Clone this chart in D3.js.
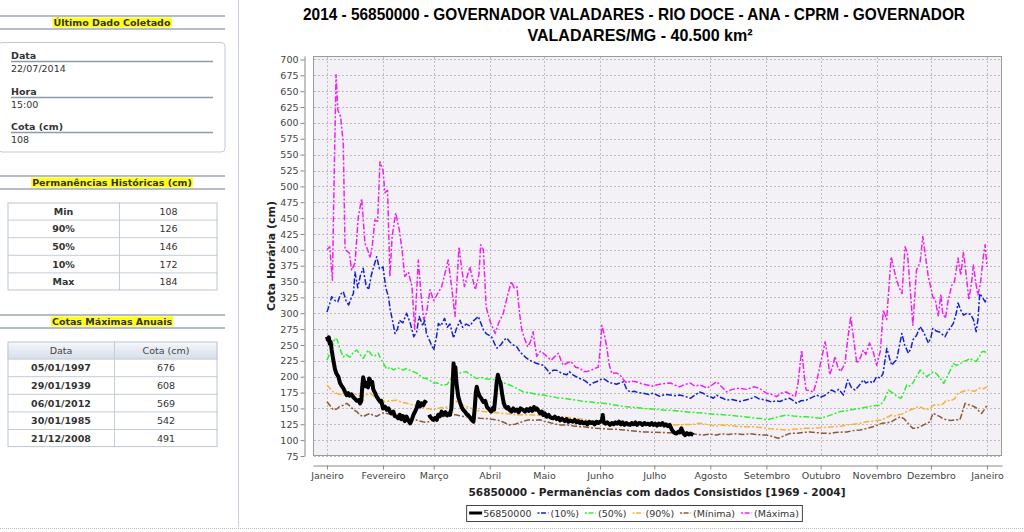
<!DOCTYPE html>
<html><head><meta charset="utf-8">
<script src="https://cdn.jsdelivr.net/npm/d3@7"></script>
<style>body{margin:0;background:#fff;}svg{display:block;}</style>
</head><body>
<svg id="c" width="1024" height="532"></svg>
<script>
// ---------------- DATA ----------------
const titleLines = ["2014 - 56850000 - GOVERNADOR VALADARES - RIO DOCE - ANA - CPRM - GOVERNADOR", "VALADARES/MG - 40.500 km²"];
const xTitle = "56850000 - Permanências com dados Consistidos [1969 - 2004]";
const yTitle = "Cota Horária (cm)";
const monthLabels = ["Janeiro","Fevereiro","Março","Abril","Maio","Junho","Julho","Agosto","Setembro","Outubro","Novembro","Dezembro","Janeiro"];
const yTickValues = [75,100,125,150,175,200,225,250,275,300,325,350,375,400,425,450,475,500,525,550,575,600,625,650,675,700];
const seriesNames = ["56850000","(10%)","(50%)","(90%)","(Mínima)","(Máxima)"];

const lastDataLabels = ["Data","Hora","Cota (cm)"];
const lastDataValues = ["22/07/2014","15:00","108"];
const permLabels = ["Min","90%","50%","10%","Max"];
const permValues = [108,126,146,172,184];
const annualHeader = ["Data","Cota (cm)"];
const annualDates = ["05/01/1997","29/01/1939","06/01/2012","30/01/1985","21/12/2008"];
const annualValues = [676,608,569,542,491];

// [day of year 2014, cota cm]
const maxima = [[0,400],[1.5,405],[3,352],[4,520],[5,676],[6,620],[7.5,610],[9,568],[10,400],[11,398],[12.4,395],[13.6,368],[15.5,379],[17.3,452],[19.2,481],[21,410],[22.5,400],[23.8,387],[25,405],[26.5,447],[28,445],[29.3,539],[31,525],[32,490],[33.5,494],[34.8,358],[36,420],[38,458],[40,431],[41.5,400],[43,358],[45,365],[47,342],[48.5,275],[50.5,384],[52,330],[53.5,290],[55,300],[57,337],[59,320],[61,330],[63.4,342],[65,360],[67,384],[69,340],[70.8,295],[73,405],[74.5,370],[76,342],[79,373],[82,337],[84,360],[85,408],[86.5,400],[88,310],[90.5,285],[93,268],[95,285],[97.5,300],[100,330],[102,350],[103.5,340],[105,342],[106.5,300],[107.7,274],[109,262],[111,247],[112.5,255],[114,271],[115,250],[116,232],[118,240],[119.6,237],[121.5,232],[124,226],[126,232],[128,237],[129.5,225],[130.7,218],[133,222],[135,224],[137.5,215],[140,213],[142,208],[143.6,208],[146,210],[148,213],[150,215],[151,240],[152,281],[153.5,265],[154.7,247],[156,220],[157.5,205],[160,206],[162,203],[164,195],[165.8,190],[168,193],[171,192],[174,189],[177,187],[180,185],[182,187],[186,189],[190,190],[193,186],[195,184],[198,188],[201,190],[203.5,185],[206,187],[208,185],[210,182],[213,187],[215.5,192],[218,185],[221,176],[224,180],[228,182],[232,180],[236,184],[239,182],[243,174],[246,172],[248.7,168.5],[251,174],[254,176],[256.5,172],[259,168.5],[260.5,190],[262.5,242],[264,200],[265,179],[267,178],[269,176],[270.5,190],[272,208],[274,235],[275.5,255],[277,230],[278,203],[279.5,215],[281,232],[282.5,215],[284,208],[286.5,221],[288,260],[289.7,295],[291,265],[293,221],[295,230],[296.6,242],[298,235],[300,253],[302,240],[304,218],[306,240],[307.7,305],[309.5,290],[312,389],[313.5,370],[315,352],[316.5,340],[318,331],[319.7,405],[321,395],[322.5,340],[324,281],[326,368],[328,380],[329.5,421],[331,390],[332.5,358],[334,340],[335,326],[336.5,320],[338,295],[339.5,330],[340.5,300],[342,292],[343.5,320],[345.5,344],[347,350],[349,387],[350.5,360],[352,397],[353.5,360],[355,321],[356.5,350],[357.5,376],[359,345],[360,329],[361.5,350],[363,390],[364,408],[365,373]];

const p10 = [[0,302],[1.5,315],[2.6,326],[4.5,320],[6,318],[7.5,330],[9,334],[10.5,320],[12,313],[13.5,325],[14.6,331],[15.5,365],[17,340],[18.5,360],[20,371],[21.5,345],[23,337],[24.5,360],[26,375],[27.5,389],[29,370],[31,373],[32.5,340],[34,326],[35,305],[36.5,285],[37.6,268],[39,275],[40,289],[42,285],[44,300],[46,285],[48,263],[49.5,270],[51,295],[53,280],[54,289],[55,268],[57,255],[59,242],[60.5,262],[61.6,284],[63,280],[65,292],[66.5,278],[68,283],[70,261],[71.5,275],[73.6,289],[75,278],[77,283],[79,280],[81,288],[83.7,295],[85,285],[86.5,274],[88,268],[91,263],[93,250],[94,245],[96,250],[98,258],[99.4,261],[101,255],[103,250],[105,247],[107,238],[108.6,234],[110,230],[112,226],[115,222],[117,220],[119.6,218],[122,210],[123,205],[125,210],[127,210],[130,205],[132.6,203],[134,208],[136,203],[139,198],[141.8,195],[143,193],[145.5,187],[147,190],[149,192],[151,195],[153,197],[155,193],[156.5,190],[158,190],[160,188],[162,190],[164,192],[165.8,180],[167.6,176],[170,177],[172,175],[175,174],[178,172],[180.5,174],[184,169],[187,172],[190,171],[193,170],[195,171],[198,169],[201,166],[203,170],[206,176],[208,174],[210,170],[212,168.5],[213.7,166],[215.5,171],[217,168],[219,166],[221,163],[224,164],[228.4,161],[231,163],[234,165],[236.7,168.5],[239,165],[243,163],[246,160],[248,162],[250.5,161],[253,164],[256,166],[258,162],[259.8,158],[262,162],[265,163],[268,167],[270.8,171],[273,168],[275,170],[277,174],[279,179],[281,176],[283,180],[285.6,171],[288,195],[290,183],[292,179],[294,185],[296.6,195],[298,190],[300,193],[302,190],[304,200],[306,198],[307.5,205],[309.6,245],[311,230],[312.3,218],[314,224],[315,226],[317.9,268],[319.5,250],[321.5,237],[323,245],[324,258],[326,265],[328,279],[330,270],[332.6,253],[334,262],[335,276],[337,272],[339,270],[341.8,263],[343,270],[345,278],[346.4,284],[348,300],[349,316],[350.5,305],[352,297],[354,300],[356,298],[357.5,290],[359,271],[360,290],[361,331],[362.5,325],[364,318],[365,324]];

const p50 = [[0,226],[2,240],[4.4,260.5],[5.7,258],[7,245],[9,231],[10.5,235],[12.7,231],[14.5,238],[16.4,242],[18,236],[20,229],[21.5,236],[22.8,242],[24.5,235],[26,232],[28.4,237],[29.5,229],[31,222],[33,212],[35,215],[36.7,210.5],[39,214],[42,210.5],[44,213],[46,210],[47.7,208],[50,205],[53,198],[55,197],[57,194],[58.8,190],[61,190],[63.4,187],[65,187],[66.5,188],[68,195],[70,200],[71.7,205],[74,206],[77,208],[79,204],[81,200],[82.8,197],[85,199],[87,197],[90,196],[94,195],[97,191],[101,187],[104,183],[108.6,176],[112,175],[116,172],[119.6,171],[123,169],[127,167],[130.7,166],[135,164],[138,163],[141.8,161],[146,160],[149,159],[152.8,158],[156,157],[160,155],[164,153],[168,152],[172,151],[175,150],[180,149],[186,147.5],[190,147],[194,146],[197,145],[201,144],[206,143],[210,142],[214,141],[219,140],[224,139],[230,137],[236,135],[240,134],[243,132],[246,134],[250,137],[254,139.6],[258,138],[262,137],[265,137],[268,136],[272.7,134.5],[276,137],[280,141],[283.7,145],[287,146],[290,148],[294.8,150],[298,152],[302,154],[305.9,155],[308,162],[310.5,179],[312,176],[314,172],[315.5,168],[317.5,166],[319,175],[320.6,187],[322,185],[324,190],[326,200],[328,210.5],[330,205],[331.7,200],[333.5,204],[335.4,208],[337,205],[339,198],[341,189.5],[343,200],[345,212],[346.4,221],[348,218],[350,220],[352,224],[354,226],[355.6,229],[357,226],[359,224],[360.5,230],[362,239],[363.5,240],[365,237]];

const p90 = [[0,187],[1.5,182],[3.5,176],[6,173],[9,171],[12.7,172],[14.6,174],[17,171],[19.2,168.5],[21,171],[23.8,174],[25.5,170],[27.5,166],[30,163],[32,160.6],[35,162],[38.5,163],[41,160],[44,158],[47,156],[49.6,155],[52,152],[55,150],[57,149],[58.8,147.5],[61,150],[63,151],[66,152],[68,153],[70,158],[71.7,161],[73.5,158],[75,155],[77,153],[80,150],[83,147],[86.5,145],[90,144],[94,143],[98,142],[101,141],[105,139.6],[110,140],[116,139.6],[121,138],[127,137],[132,136],[138,134.5],[143,132],[149,129],[154,128.5],[160,127.5],[166,127],[171,127],[176,126],[182,125.4],[187,124.5],[193,124],[198,124.5],[203,125],[206,126.5],[210,125],[215.5,122],[217,124],[222,123],[226,122],[230,121],[236,121],[240,120],[245,118],[250,117],[254,116],[258,117],[262,118],[265,118.6],[270,119],[275,120],[280,121],[284,122],[287.5,124],[291,125],[294,126],[298.5,129],[302,130],[306.8,132],[309,135],[312.3,139.6],[314,138],[316,140],[318,141],[320.6,145],[323,148],[325,150],[327,153],[329,151],[331.7,147.5],[333.5,150],[335.4,155],[337,156],[339,155],[341,158],[342.7,163],[345,162],[347,165],[349,174],[351,176],[353.8,179],[356,178],[358,177],[361,182],[363,181],[365,184]];

const minima = [[0,160.6],[1.5,155],[3.5,147.5],[5.4,149],[7,153],[9,155],[11,158],[13,153],[14.6,148],[16.5,145],[18,140],[20,137],[22,140],[23.8,142],[25.5,139],[27.5,137.5],[29,140],[31,143],[33,142],[35,141],[36.7,142],[39,141],[42,139],[44,136],[46,132],[47.7,134],[50,131],[53,129],[55,128],[57,130],[60.7,134.5],[63,136],[65,138],[68,139.6],[71,140],[74,138],[77,137],[80,136],[84.6,134.5],[88,134],[91,133],[94,132],[97,129],[101,124],[104,125],[107,128],[110,131],[112,132],[115,131],[117.8,132],[120,130],[124,127],[127,125],[129,124],[133,124],[137,122],[141.8,121],[145,120],[149,118.6],[153,118],[157,117],[160,117],[164,116],[168,115],[171,114],[175,113],[180,112.5],[186,112],[190,111.5],[193,111],[197,110.6],[201,110],[205,109],[208,108],[212,109.5],[215.5,108],[218,110],[222,109],[226,110],[230,109],[234,110],[238,108.5],[243,108],[246,106],[249.6,103],[252,106],[256,110.6],[260,111],[263,112],[267,113],[270,112],[274,111],[278,110.6],[281,112],[284,112.5],[287.5,113],[291,115],[294.8,116],[298,118],[302,121],[304.5,124],[306.8,126.5],[309,127],[312.3,129],[314.5,133],[317,137],[319,134],[320.6,129],[322,124],[324,118.6],[326,119],[328,121],[330,124],[332,127],[333.5,129],[335,142],[337,140],[339,137],[340.5,134],[342.7,132],[345,131],[347.5,132],[350,132],[351.5,145],[352.9,158],[354,157],[355.6,155],[357,154],[359,151],[360.5,146],[362,142],[363.5,148],[365,155]];

const obs2014 = [[0,263],[0.5,258],[1,262],[1.5,252],[2,255],[2.6,242],[3.5,226],[4.4,212],[5.2,205],[6.3,200],[7.2,190],[8,186],[9,182],[10,176],[10.9,171],[11.8,174],[12.5,170],[13.5,172],[14.5,168],[15.5,165],[16.5,162],[17.5,163],[18.3,158],[19,162],[19.5,185],[20,199],[20.6,192],[21.2,185],[22,190],[22.7,183],[23.3,197],[23.8,195],[24.5,188],[25,192],[25.6,180],[26.5,175],[27.5,168.5],[28.3,165],[29.3,160.6],[30,162],[31,150],[32,153],[33,148],[34,150],[34.8,145],[35.5,142],[36.7,145],[37.5,138],[38.5,137],[39.4,134.5],[40.3,140],[41,133],[42,138],[43,130],[44,137],[45,131],[46,126.5],[47,133],[47.8,140],[48.7,145],[49.5,150],[50.5,160],[51.4,153],[52.3,158],[53.3,155],[54.2,160.6],[55,158],[55.7,null],[56.5,140],[57,137],[58,134],[58.8,132],[59.8,135],[60.7,132],[61.5,140],[62.5,138],[63.4,145],[64.3,140],[65.5,144],[66.5,139],[67.3,142],[68,140],[68.8,150],[69.5,190],[70,221],[70.5,205],[71,215],[71.6,190],[72.6,168.5],[73.5,160],[74.5,152],[75.4,147.5],[76.3,145],[77.2,141],[78,139.6],[79,136],[80,132],[81,129],[81.7,150],[82.3,175],[82.8,184],[83.5,176],[84.6,168.5],[85.5,165],[86.5,160],[87.5,162],[88.5,152],[89.3,150],[90,147.5],[90.8,145],[91.6,150],[92.4,148],[93.2,170],[93.8,190],[94.5,203],[95.3,195],[96,190],[97,170],[97.8,158],[98.5,153],[99.5,150],[100.2,152],[101,147.5],[102,145],[103,150],[104,146],[105,148],[106,144],[107,150],[108.6,147.5],[109.5,145],[110.5,149],[111.5,146],[112.5,150],[113.5,146],[114.5,152],[115.3,148],[116,150],[117,146],[118,142],[118.8,145],[119.6,139.6],[120.5,142],[121.5,137],[122.5,140],[123.5,136],[125,134.5],[126,137],[127,133],[128,135],[129,131],[130,134],[130.7,132],[131.5,130],[132.5,133],[133.5,129],[134.5,131],[136,129],[137,132],[138,128],[139,130],[140,127],[141,129],[141.8,126.5],[143,128],[144,125],[145,129],[146,127],[147,128],[148,125],[149,129],[150,127],[151,129],[152,130],[152.5,139.6],[153,128],[154,126],[155,128],[156.5,124],[157.5,127],[158.5,125],[159.5,128],[160.5,126],[161.5,129],[162.5,125],[163.5,128],[164.5,124],[165.5,127],[166.5,125],[167.6,124],[168.5,127],[169.5,125],[170.5,128],[171.5,124],[172.5,127],[173.5,126.5],[174.5,124],[175.5,127],[176.5,125],[177.5,126],[178.5,124],[179.5,127],[180.5,124],[181.5,126],[182.5,123],[183.5,126],[184.5,124],[185.5,127],[186.5,123],[187.5,125],[188.5,122],[189.5,124],[190,121],[190.8,116],[191.6,113],[192.5,111],[193.4,110.6],[194.2,113],[195,112],[196,118.6],[196.6,114],[197.3,110],[198,108],[199,111],[200,109],[201,110.6],[202,109],[202.6,108]];

// ---------------- DRAW ----------------
const svg = d3.select("#c");
const FONT = "DejaVu Sans, Verdana, sans-serif";

// ===== Left panel =====
const lp = svg.append("g");
lp.append("line").attr("x1",238.5).attr("x2",238.5).attr("y1",0).attr("y2",527).attr("stroke","#c9d1dc");
svg.append("line").attr("x1",0).attr("x2",1024).attr("y1",528.5).attr("y2",528.5)
  .attr("stroke","#b9bfc8").attr("stroke-dasharray","1,1");

function sectionHeader(title, yTop, yBot) {
  [yTop, yBot].forEach(yy => lp.append("line").attr("x1",0).attr("x2",225).attr("y1",yy).attr("y2",yy)
     .attr("stroke","#b3bcc8").attr("stroke-width",2));
  const t = lp.append("text").attr("x",112).attr("y",(yTop+yBot)/2+3.5).attr("text-anchor","middle")
     .attr("font-family",FONT).attr("font-size",9.5).attr("font-weight","bold").attr("fill","#333").text(title);
  const bb = t.node().getBBox();
  lp.insert("rect", () => t.node()).attr("x",bb.x-1).attr("y",bb.y+0.5).attr("width",bb.width+2).attr("height",bb.height-1)
     .attr("fill","#ffff1a");
}

sectionHeader("Último Dado Coletado", 16, 29);
lp.append("rect").attr("x",-2).attr("y",42.5).attr("width",227).attr("height",109.5).attr("rx",4)
  .attr("fill","#fff").attr("stroke","#c3cbd6");
const rowBase = [59, 95, 130];
lastDataLabels.forEach((lab,i) => {
  lp.append("text").attr("x",11).attr("y",rowBase[i]).attr("font-family",FONT).attr("font-size",9.5)
    .attr("font-weight","bold").attr("fill","#333").text(lab);
  lp.append("line").attr("x1",11).attr("x2",213).attr("y1",rowBase[i]+2.5).attr("y2",rowBase[i]+2.5)
    .attr("stroke","#8f9aa8").attr("stroke-width",1.5);
  lp.append("text").attr("x",11).attr("y",rowBase[i]+13).attr("font-family",FONT).attr("font-size",9.5)
    .attr("fill","#333").text(lastDataValues[i]);
});

sectionHeader("Permanências Históricas (cm)", 176, 189);
function drawTable(x0, x1, xDiv, yTop, rowH, col1, col2, boldCol1, header) {
  const g = lp.append("g");
  let y0 = yTop;
  const nRows = col1.length + (header ? 1 : 0);
  g.append("rect").attr("x",x0).attr("y",yTop).attr("width",x1-x0).attr("height",rowH*nRows).attr("fill","#fff");
  const c1 = (x0+xDiv)/2, c2 = (xDiv+x1)/2;
  if (header) {
    g.append("rect").attr("x",x0).attr("y",y0).attr("width",x1-x0).attr("height",rowH).attr("fill","url(#hdrGrad)");
    g.append("text").attr("x",c1).attr("y",y0+rowH/2+3.5).attr("text-anchor","middle").attr("font-family",FONT)
      .attr("font-size",9.5).attr("fill","#444").text(header[0]);
    g.append("text").attr("x",c2).attr("y",y0+rowH/2+3.5).attr("text-anchor","middle").attr("font-family",FONT)
      .attr("font-size",9.5).attr("fill","#444").text(header[1]);
    y0 += rowH;
  }
  col1.forEach((v,i) => {
    const yy = y0 + i*rowH;
    g.append("text").attr("x",c1).attr("y",yy+rowH/2+3.5).attr("text-anchor","middle").attr("font-family",FONT)
      .attr("font-size",9.5).attr("font-weight",boldCol1?"bold":"normal").attr("fill","#333").text(v);
    g.append("text").attr("x",c2).attr("y",yy+rowH/2+3.5).attr("text-anchor","middle").attr("font-family",FONT)
      .attr("font-size",9.5).attr("fill","#333").text(col2[i]);
  });
  for (let i=1;i<nRows;i++) g.append("line").attr("x1",x0).attr("x2",x1).attr("y1",yTop+i*rowH).attr("y2",yTop+i*rowH).attr("stroke","#c4ccd7");
  g.append("line").attr("x1",xDiv).attr("x2",xDiv).attr("y1",yTop).attr("y2",yTop+rowH*nRows).attr("stroke","#c4ccd7");
  g.append("rect").attr("x",x0+0.5).attr("y",yTop+0.5).attr("width",x1-x0-1).attr("height",rowH*nRows-1)
    .attr("fill","none").attr("stroke","#bcc5d1");
}
const defs = svg.append("defs");
const grad = defs.append("linearGradient").attr("id","hdrGrad").attr("x1",0).attr("x2",0).attr("y1",0).attr("y2",1);
grad.append("stop").attr("offset","0%").attr("stop-color","#f6f8fb");
grad.append("stop").attr("offset","100%").attr("stop-color","#d6dee9");
defs.append("clipPath").attr("id","plotClip").append("rect").attr("x",313).attr("y",56).attr("width",689).attr("height",400);

drawTable(7.5, 217.5, 119.5, 202.5, 17.6, permLabels, permValues, true, null);
sectionHeader("Cotas Máximas Anuais", 315, 328);
drawTable(7.5, 217.5, 114.5, 341.5, 17.6, annualDates, annualValues, true, annualHeader);

// ===== Chart =====
const plot = {left:313, top:56, right:1002, bottom:456};
const base = Date.UTC(2014,0,1);
const toDate = d => new Date(base + d*864e5);
const x = d3.scaleUtc().domain([toDate(-7.74), toDate(373.3)]).range([plot.left, plot.right]);
const y = d3.scaleLinear().domain([75, 705.5]).range([plot.bottom, plot.top]);
const monthTicks = d3.utcMonth.range(new Date(Date.UTC(2014,0,1)), new Date(Date.UTC(2015,0,2)));

// title
const title = svg.append("g").attr("font-family","Liberation Sans, Arial, sans-serif").attr("font-weight","bold")
  .attr("font-size",16.5).attr("fill","#000").attr("text-anchor","middle");
title.append("text").attr("x",634).attr("y",20).attr("textLength",662).attr("lengthAdjust","spacingAndGlyphs").text(titleLines[0]);
title.append("text").attr("x",640).attr("y",41).attr("textLength",225).attr("lengthAdjust","spacingAndGlyphs").text(titleLines[1]);

// plot background
svg.append("rect").attr("x",plot.left+0.5).attr("y",plot.top+0.5).attr("width",plot.right-plot.left-1)
  .attr("height",plot.bottom-plot.top-1).attr("fill","#f3f1f5").attr("stroke","#9a9a9a");

// gridlines
const grid = svg.append("g").attr("stroke","#bdbdbd").attr("stroke-dasharray","2,2").attr("stroke-width",1);
yTickValues.forEach(v => grid.append("line").attr("x1",plot.left+1).attr("x2",plot.right-1)
  .attr("y1",Math.round(y(v))+0.5).attr("y2",Math.round(y(v))+0.5));
monthTicks.forEach(d => grid.append("line").attr("y1",plot.top+1).attr("y2",plot.bottom-1)
  .attr("x1",Math.round(x(d))+0.5).attr("x2",Math.round(x(d))+0.5));

// axes
const yAxis = d3.axisLeft(y).tickValues(yTickValues).tickSize(4).tickSizeOuter(0).tickPadding(2);
const yg = svg.append("g").attr("transform","translate(304.5,0)").call(yAxis);
const xAxis = d3.axisBottom(x).tickValues(monthTicks).tickFormat((d,i)=>monthLabels[i]).tickSize(4).tickSizeOuter(0).tickPadding(3);
const xg = svg.append("g").attr("transform","translate(0,465.5)").call(xAxis);
[yg,xg].forEach(g => {
  g.selectAll("path.domain").attr("stroke","#888");
  g.selectAll(".tick line").attr("stroke","#888");
  g.selectAll("text").attr("font-family",FONT).attr("font-size",9.5).attr("fill","#444");
});

// axis titles
svg.append("text").attr("x",657).attr("y",496).attr("text-anchor","middle").attr("font-family",FONT)
  .attr("font-size",11).attr("font-weight","bold").attr("fill","#222")
  .attr("textLength",377).attr("lengthAdjust","spacingAndGlyphs").text(xTitle);
svg.append("text").attr("transform","translate(275,256) rotate(-90)").attr("text-anchor","middle").attr("font-family",FONT)
  .attr("font-size",11).attr("font-weight","bold").attr("fill","#222")
  .attr("textLength",110).attr("lengthAdjust","spacingAndGlyphs").text(yTitle);

// lines
const styles = [
  {data:obs2014, color:"#000000", w:4, dash:null},
  {data:p10, color:"#1420d4", w:1.5, dash:"6,2,2,2"},
  {data:p50, color:"#33ee33", w:1.5, dash:"6,2,2,2"},
  {data:p90, color:"#f6b23c", w:1.5, dash:"6,2,2,2"},
  {data:minima, color:"#8b5a3a", w:1.5, dash:"6,2,2,2"},
  {data:maxima, color:"#f020f0", w:1.5, dash:"6,2,2,2"}
];
const line = d3.line().defined(d => d[1] != null).x(d => x(toDate(d[0]))).y(d => y(d[1]));
const lines = svg.append("g").attr("clip-path","url(#plotClip)");
[5,1,2,3,4,0].forEach(i => {
  const s = styles[i];
  lines.append("path").attr("d", line(s.data)).attr("fill","none").attr("stroke",s.color)
    .attr("stroke-width",s.w).attr("stroke-dasharray",s.dash).attr("stroke-linejoin","round");
});

// legend
const lg = svg.append("g");
let cx = 0;
seriesNames.forEach((name,i) => {
  const s = styles[i];
  const it = lg.append("g");
  it.append("line").attr("x1",cx).attr("x2",cx+(i===0?13:11)).attr("y1",0).attr("y2",0)
    .attr("stroke",s.color).attr("stroke-width",i===0?3:1.5).attr("stroke-dasharray",i===0?null:"2,1.5,5,2");
  cx += (i===0?14:13);
  const t = it.append("text").attr("x",cx).attr("y",3.5).attr("font-family",FONT).attr("font-size",9.5)
    .attr("fill","#333").text(name);
  cx += t.node().getComputedTextLength() + 6;
});
const legW = cx;
const legX = 634 - legW/2;
lg.attr("transform",`translate(${legX+3},513)`);
svg.insert("rect", () => lg.node()).attr("x",legX+0.5).attr("y",505.5).attr("width",legW).attr("height",16)
  .attr("fill","#fff").attr("stroke","#444");
</script>
</body></html>
